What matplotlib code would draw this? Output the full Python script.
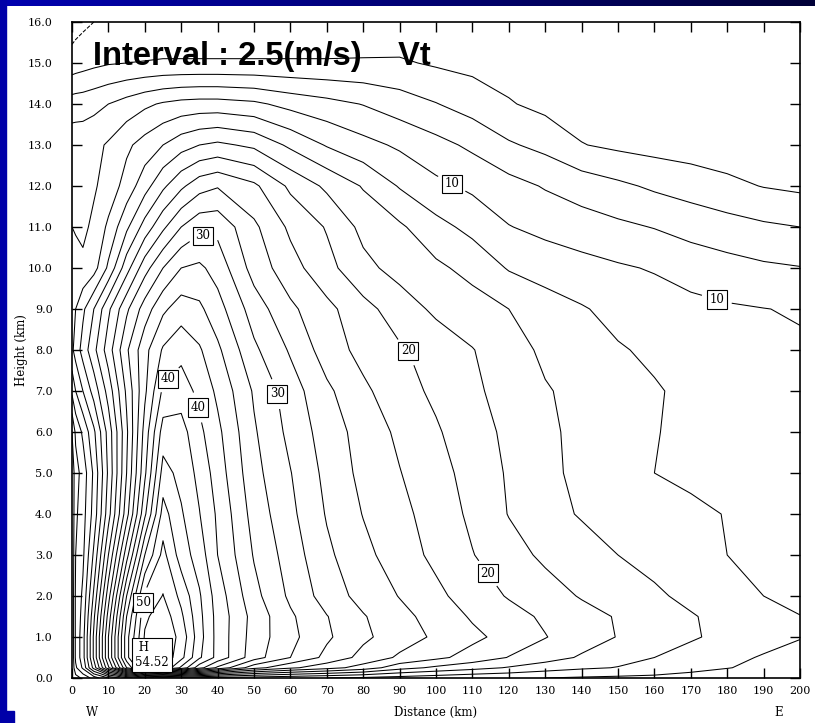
import numpy as np
import matplotlib.pyplot as plt
from matplotlib.colors import LinearSegmentedColormap
from matplotlib.patches import Rectangle
from matplotlib.ticker import FormatStrFormatter

plt.rcParams['font.family'] = 'DejaVu Serif'

# radius from the storm centre (km) and height (km) of the analysis grid
dist = np.array([0, 1, 3, 6, 10, 15, 20, 25, 30, 35, 40, 50, 60, 70, 80, 90,
                 100, 110, 120, 130, 140, 150, 160, 170, 180, 190, 200])
height = np.array([0, 0.25, 0.5, 1, 1.5, 2, 3, 4, 5, 6, 7, 8, 9, 10, 11, 12,
                   13, 14, 15, 16])

# tangential wind Vt (m/s), one row per height
vt = np.array([
    [0.2, 1.5, 3, 6, 10, 14, 17, 18, 17.5, 17, 16.5, 16, 15.5, 15, 14.5, 14, 13.5, 13, 12.8, 12.5, 12.2, 12, 11.8, 11.5, 11, 10.5, 10],
    [0.2, 4.5, 8, 16, 27, 40, 49, 52.6, 47, 41, 37, 31, 28, 26, 24, 21, 19.5, 18.4, 17.3, 16.2, 15.4, 14.9, 14.3, 13.3, 12.6, 11.9, 11.3],
    [0.2, 5.5, 9, 18, 30, 44, 53, 54.52, 50.8, 45.4, 41.7, 36.1, 32.5, 29.3, 26.7, 24.6, 23.1, 21.5, 19.9, 18.6, 17.2, 15.8, 15, 14, 13.1, 12.3, 11.8],
    [0.2, 5.5, 9, 18, 30, 44, 52.8, 54.5, 51.7, 46, 41.6, 36.4, 33.2, 30.4, 28, 26.2, 24.6, 23.1, 21.6, 20.1, 18.7, 17.4, 16.3, 15.3, 14.3, 13.4, 12.6],
    [0.2, 5.5, 8.5, 17, 28.5, 42.5, 52, 54, 50.5, 45.7, 41.6, 36.6, 32.9, 30.1, 27.7, 25.7, 24.1, 22.2, 20.9, 19.6, 18.4, 17.3, 16.2, 15.2, 14.2, 13.3, 12.55],
    [0.2, 5.5, 8, 15.5, 26.5, 40, 50.5, 52.6, 49.3, 45.3, 41.3, 35.8, 32, 28.9, 26.6, 24.9, 23.1, 21.3, 19.8, 18.6, 17.3, 16.4, 15.4, 14.4, 13.3, 12.5, 11.9],
    [0.2, 5, 7, 13, 22.5, 34, 45, 50.8, 46.3, 43.8, 40, 34.8, 31.3, 28, 25.7, 23.7, 21.9, 20.1, 18.5, 17, 16, 15, 14.2, 13.5, 12.5, 12, 11.6],
    [0.2, 4.5, 6.5, 11, 19, 29, 39.5, 48.5, 45.3, 42.6, 39.6, 34, 30.6, 27.3, 24.9, 23.2, 21.4, 19.5, 17.4, 15.8, 14.8, 14, 13.4, 13, 12.4, 12, 11.5],
    [0.5, 4, 6, 10.5, 18, 27.5, 37, 46, 44.2, 41.8, 38.8, 33.3, 30.1, 26.8, 24.3, 22.6, 20.8, 19.2, 17.2, 15.5, 14.5, 13.5, 12.5, 12, 11.5, 11.2, 10.8],
    [2.5, 5.5, 8, 12, 18.5, 27, 36, 43.6, 43.5, 40.6, 38.1, 32.8, 29.3, 26.3, 24, 22, 20.3, 18.5, 17, 15.3, 14.6, 13.8, 12.6, 12, 11.5, 11.2, 10.8],
    [8, 10, 12.5, 16, 21, 28, 34.5, 40.5, 41.3, 39.3, 37, 32.2, 28.7, 25.5, 23, 21, 19.5, 18, 16.5, 15.2, 14.3, 13.4, 12.7, 12, 11.4, 11, 10.6],
    [12, 13.5, 16, 19.3, 23.8, 29.6, 34.2, 37.8, 39.2, 37.8, 35.5, 30.5, 27.2, 23.8, 21.7, 20.3, 19, 17.6, 16.1, 14.5, 13.7, 12.7, 12.1, 11.6, 11.1, 10.7, 10.3],
    [12, 12.5, 14.5, 17.5, 22, 27, 31.2, 34.5, 36.3, 35.5, 33.5, 28.8, 25.5, 23.2, 20.8, 18.8, 17, 16.1, 15, 13.6, 12.7, 11.8, 11.2, 10.7, 10.3, 10.05, 9.8],
    [11, 10.8, 10.5, 11.5, 15.5, 21.5, 26.5, 30, 32.5, 33, 31.5, 26.5, 23.5, 20.8, 18.2, 16.6, 15.5, 14.2, 12.3, 11.5, 10.9, 10.3, 9.8, 9, 8.4, 7.9, 7.6],
    [10, 9.8, 9.5, 10.5, 13, 17, 21, 24.5, 27.5, 29.3, 29.3, 25.5, 22, 19.8, 16.8, 15.4, 13.3, 11.8, 10.1, 9.3, 8.6, 8, 7.4, 6.6, 6, 5.4, 5],
    [8.5, 8.7, 9, 9.7, 11, 13.5, 16.5, 19.5, 22, 24, 24.8, 23, 19.5, 17, 14.8, 12.3, 10.6, 9.5, 8.4, 7.3, 6.4, 5.5, 4.6, 3.9, 3.1, 2.4, 2],
    [9, 9, 9, 9.3, 10.3, 12, 13.5, 15, 16.5, 17.5, 18, 17, 14.5, 12.3, 10.8, 9.6, 8.3, 7, 5.3, 4.3, 2.6, 2, 1.6, 1.3, 1.1, 0.9, 0.8],
    [6.2, 6.3, 6.4, 6.8, 7.5, 8.5, 9.5, 10.3, 10.8, 11, 11, 10.5, 9.2, 8.3, 7.4, 6.2, 5.1, 3.9, 2.7, 1.8, 1.3, 1.1, 1, 0.9, 0.8, 0.7, 0.7],
    [1, 1.2, 1.5, 1.9, 2.3, 2.5, 2.6, 2.7, 2.7, 2.7, 2.7, 2.7, 2.7, 2.7, 2.75, 2.8, 2.2, 1.8, 1.4, 1.1, 0.9, 0.8, 0.7, 0.7, 0.6, 0.6, 0.6],
    [-1.2, -0.9, -0.5, 0, 0.4, 0.6, 0.7, 0.8, 0.8, 0.8, 0.8, 0.8, 0.8, 0.8, 0.8, 0.7, 0.6, 0.6, 0.5, 0.5, 0.5, 0.5, 0.5, 0.5, 0.5, 0.5, 0.5],
])

levels = np.arange(0, 55, 2.5)
label_levels = [10, 20, 30, 40, 50]
label_pos = [(104, 12.0), (178, 9.5), (36, 10.8), (56, 6.93), (93, 8.0),
             (115, 2.6), (24.7, 7.44), (34.6, 6.6), (19, 1.85)]

W, H = 815, 723
fig = plt.figure(figsize=(W / 100, H / 100), dpi=100)

# slide frame: blue bar along the top, blue strip down the left
bar = fig.add_axes([0, 1 - 6 / H, 1, 6 / H])
bar.imshow(np.linspace(0, 1, 256)[None, :], aspect='auto',
           cmap=LinearSegmentedColormap.from_list('frame', ['#0000b0', '#000038']))
bar.axis('off')
fig.patches.append(Rectangle((0, 0), 6 / W, 1, transform=fig.transFigure,
                             color='#0000a8', zorder=0))
fig.patches.append(Rectangle((0, 0), 14 / W, 12 / H, transform=fig.transFigure,
                             color='#0000a8', zorder=0))

ax = fig.add_axes([72 / W, 45 / H, 728 / W, 656 / H])

# unlabelled contours (the 0 line dashed), then the labelled ones
plain = [lv for lv in levels if lv not in label_levels]
styles = ['dashed' if lv <= 0 else 'solid' for lv in plain]
ax.contour(dist, height, vt, levels=plain, colors='black', linewidths=0.75,
           linestyles=styles)
cs = ax.contour(dist, height, vt, levels=label_levels, colors='black',
                linewidths=0.75)

labels = ax.clabel(cs, fmt='%d', fontsize=8.5, inline=True, inline_spacing=8,
                   manual=label_pos)
for t in labels:
    t.set_rotation(0)
    t.set_bbox(dict(boxstyle='square,pad=0.22', fc='white', ec='black', lw=0.8))

# maximum of the field
iz, ir = np.unravel_index(np.argmax(vt), vt.shape)
ax.annotate(' H\n%.2f' % vt[iz, ir], (dist[ir], height[iz]), xytext=(-8, 2),
            textcoords='offset points', ha='center', va='center',
            multialignment='left', fontsize=8.5, zorder=6,
            bbox=dict(boxstyle='square,pad=0.25', fc='white', ec='black', lw=0.8))

ax.text(5.8, 14.95, 'Interval : 2.5(m/s)    Vt', fontsize=23.5,
        fontweight='bold', family='Liberation Sans', va='baseline', zorder=5)

ax.set_xlim(0, 200)
ax.set_ylim(0, 16)
ax.set_xticks(np.arange(0, 201, 10))
ax.set_yticks(np.arange(0, 16.1, 1))
ax.yaxis.set_major_formatter(FormatStrFormatter('%.1f'))
ax.tick_params(direction='in', top=True, right=True, length=7, width=1,
               labelsize=8)
ax.tick_params(axis='y', pad=14)
ax.tick_params(axis='x', pad=6)
for s in ax.spines.values():
    s.set_linewidth(1.2)

ax.set_xlabel('Distance (km)', fontsize=8.5)
ax.xaxis.set_label_coords(0.5, -0.052)
ax.xaxis.label.set_va('center')
ax.set_ylabel('Height (km)', fontsize=8.5)
ax.yaxis.set_label_coords(-0.069, 0.5)
ax.yaxis.label.set_va('center')
ax.text(5.5, -0.052, 'W', transform=ax.get_xaxis_transform(), ha='center',
        va='center', fontsize=8.5)
ax.text(194, -0.052, 'E', transform=ax.get_xaxis_transform(), ha='center',
        va='center', fontsize=8.5)

fig.savefig('out.png', dpi=100)
